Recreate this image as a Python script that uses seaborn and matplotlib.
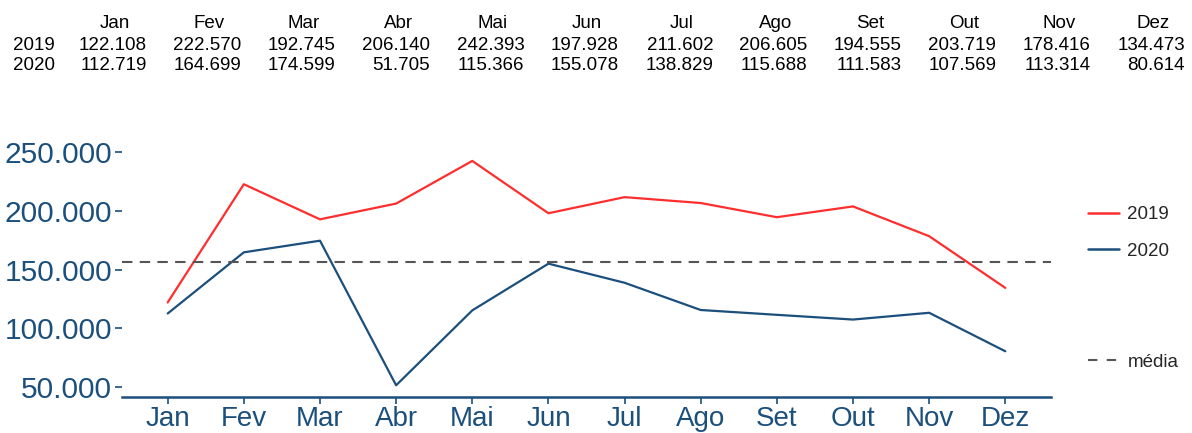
import matplotlib
matplotlib.use("Agg")
import matplotlib.pyplot as plt
import seaborn as sns
import pandas as pd
import numpy as np
from matplotlib.lines import Line2D
from matplotlib.ticker import FuncFormatter

months = ["Jan", "Fev", "Mar", "Abr", "Mai", "Jun", "Jul", "Ago", "Set", "Out", "Nov", "Dez"]
years = ["2019", "2020"]
v2019 = [122108, 222570, 192745, 206140, 242393, 197928, 211602, 206605, 194555, 203719, 178416, 134473]
v2020 = [112719, 164699, 174599, 51705, 115366, 155078, 138829, 115688, 111583, 107569, 113314, 80614]
yticks = [50000, 100000, 150000, 200000, 250000]

RED = "#FF2E2E"
BLUE = "#1B4F7C"
GREY = "#555555"

sns.set_theme(style="white")
plt.rcParams["font.family"] = ["Liberation Sans", "DejaVu Sans"]

df = pd.DataFrame({
    "mes": months * 2,
    "x": list(range(12)) * 2,
    "valor": v2019 + v2020,
    "ano": [years[0]] * 12 + [years[1]] * 12,
})
media = float(np.mean(v2019 + v2020))

def br(n):
    return f"{int(round(n)):,}".replace(",", ".")

fig = plt.figure(figsize=(11.92, 4.33), dpi=100)
W, H = 1192, 433
ax = fig.add_axes([122 / W, (H - 396.5) / H, (1051 - 122) / W, (396.5 - 149.7) / H])

sns.lineplot(data=df, x="x", y="valor", hue="ano", palette={"2019": RED, "2020": BLUE},
             linewidth=1.6, ax=ax, legend=False, sort=False)
ax.axhline(media, color=GREY, linestyle=(0, (5, 3.5)), linewidth=1.5)

ymin = min(v2019 + v2020)
ymax = max(v2019 + v2020)
rng = ymax - ymin
ax.set_ylim(ymin - 0.05 * rng, ymax + 0.05 * rng)
ax.set_xlim(-0.6, 11.6)
ax.set_xticks(range(12))
ax.set_xticklabels(months)
ax.set_yticks(yticks)
ax.yaxis.set_major_formatter(FuncFormatter(lambda v, p: br(v)))
ax.set_xlabel("")
ax.set_ylabel("")
for s in ["top", "right", "left"]:
    ax.spines[s].set_visible(False)
ax.spines["bottom"].set_color(BLUE)
ax.spines["bottom"].set_linewidth(1.8)
ax.tick_params(axis="both", colors=BLUE, length=5, width=1.2,
               direction="out", labelcolor=BLUE, left=True, bottom=True)
ax.tick_params(axis="y", pad=2, labelsize=21.5)
ax.tick_params(axis="x", pad=1.5, labelsize=20)
ax.set_facecolor("white")

# Legends
h_years = [Line2D([0], [0], color=RED, lw=1.8), Line2D([0], [0], color=BLUE, lw=1.8)]
leg1 = fig.legend(h_years, years, loc="center left", bbox_to_anchor=(1088 / W, 1 - 233 / H),
                  frameon=False, fontsize=13.5, handlelength=1.65, handletextpad=0.45,
                  labelspacing=1.05, borderaxespad=0, borderpad=0)
h_med = [Line2D([0], [0], color=GREY, lw=1.5, linestyle=(0, (4.5, 4.5)))]
leg2 = fig.legend(h_med, ["média"], loc="center left", bbox_to_anchor=(1088 / W, 1 - 362 / H),
                  frameon=False, fontsize=13.5, handlelength=1.65, handletextpad=0.45,
                  borderaxespad=0, borderpad=0)

# Table at the top
right0 = 147
step = (1185 - 147) / 11
ys = [23, 45, 66]
FS = 13.5
for i, m in enumerate(months):
    r = right0 + i * step
    fig.text((r - 32) / W, 1 - ys[0] / H, m, ha="center", va="center", fontsize=FS, color="black")
    fig.text(r / W, 1 - ys[1] / H, br(v2019[i]), ha="right", va="center", fontsize=FS, color="black")
    fig.text(r / W, 1 - ys[2] / H, br(v2020[i]), ha="right", va="center", fontsize=FS, color="black")
fig.text(13 / W, 1 - ys[1] / H, years[0], ha="left", va="center", fontsize=FS, color="black")
fig.text(13 / W, 1 - ys[2] / H, years[1], ha="left", va="center", fontsize=FS, color="black")

fig.savefig("out.png", dpi=100, facecolor="white")
